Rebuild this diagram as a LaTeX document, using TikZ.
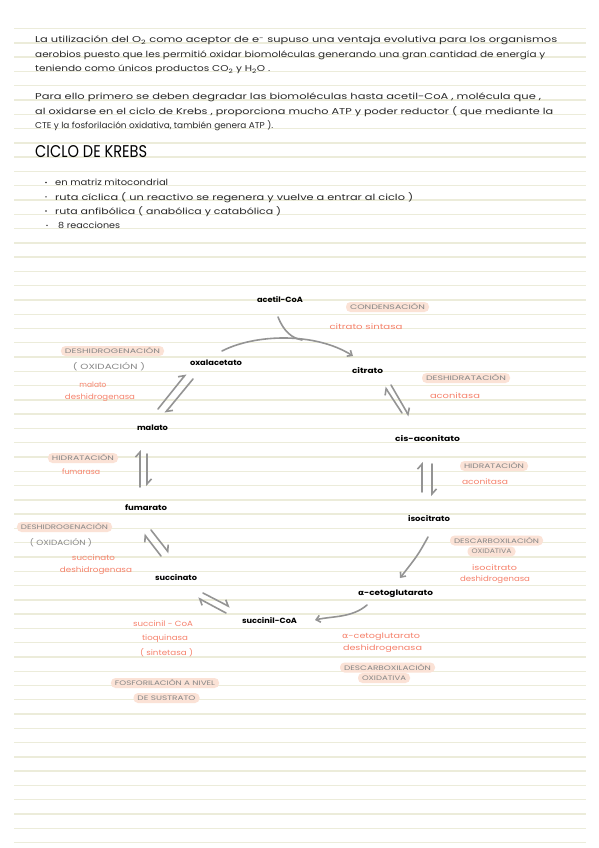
\documentclass[tikz,border=0pt]{standalone}
\usepackage{fontspec}
\usepackage{graphicx}
\setmainfont{Poppins}
\newfontfamily\greekf{DejaVu Sans}
\usetikzlibrary{arrows.meta}
\definecolor{textdark}{RGB}{40,40,40}
\definecolor{rulec}{RGB}{236,236,218}
\definecolor{peach}{RGB}{251,226,214}
\definecolor{procgray}{RGB}{135,135,135}
\definecolor{salmon}{RGB}{246,130,108}
\definecolor{arrgray}{RGB}{148,148,148}
\newcommand\fw[2]{\resizebox{#1pt}{\height}{#2}}
\begin{document}
\begin{tikzpicture}[x=1pt,y=-1pt,
  rulel/.style={draw=rulec,line width=1.4pt},
  para/.style={anchor=base west,inner sep=0pt,text=textdark,font=\fontsize{8.5}{10}\selectfont},
  titlest/.style={anchor=base west,inner sep=0pt,text=black,font=\fontsize{17}{20}\selectfont},
  bdot/.style={circle,fill=textdark,inner sep=0pt,minimum size=1.6pt},
  species/.style={inner sep=0pt,text=black,font=\fontsize{7.5}{9}\selectfont\bfseries},
  enzyme/.style={inner sep=0pt,text=salmon,font=\fontsize{7.5}{9}\selectfont},
  proc/.style={fill=peach,rounded corners=4.5pt,inner xsep=4pt,inner ysep=1.5pt,minimum height=10pt,text=procgray,font=\fontsize{6.5}{8}\selectfont},
  procplain/.style={inner sep=0pt,text=procgray,font=\fontsize{7.5}{9}\selectfont},
  arr/.style={draw=arrgray,line width=1.6pt,line cap=round,-{Straight Barb[length=4pt,width=7pt]}},
  rev/.style={draw=arrgray,line width=1.6pt,line cap=round,-{Straight Barb[harpoon,length=5pt,width=9pt]}}
]
\path[use as bounding box,fill=white] (0,0) rectangle (599,848);
\foreach \i in {0,...,57}
  \draw[rulel] (14,{28.6+14.28*\i}) -- (586,{28.6+14.28*\i});

% paragraphs
\node[para] (p1) at (35,42.9) {\fw{522}{La utilización del O\textsubscript{2} como aceptor de e\textsuperscript{−} supuso una ventaja evolutiva para los organismos}};
\node[para] (p2) at (35,57.2) {\fw{510}{aerobios puesto que les permitió oxidar biomoléculas generando una gran cantidad de energía y}};
\node[para] (p3) at (35,71.4) {\fw{235}{teniendo como únicos productos CO\textsubscript{2} y H\textsubscript{2}O .}};
\node[para] (p4) at (35,100) {\fw{506}{Para ello primero se deben degradar las biomoléculas hasta acetil-CoA , molécula que ,}};
\node[para] (p5) at (35,114.3) {\fw{518}{al oxidarse en el ciclo de Krebs , proporciona mucho ATP y poder reductor ( que mediante la}};
\node[para] (p6) at (35,128.6) {\fw{238}{CTE y la fosforilación oxidativa, también genera ATP ).}};

% title and bullets
\node[titlest] (title) at (35,157.1) {\fw{112}{CICLO DE KREBS}};
\node[bdot] (d1) at (46,182.5) {};
\node[bdot] (d2) at (46,196.8) {};
\node[bdot] (d3) at (46,211) {};
\node[bdot] (d4) at (47,225.3) {};
\node[para] (b1) at (55,185.7) {\fw{113}{en matriz mitocondrial}};
\node[para] (b2) at (55,200) {\fw{358}{ruta cíclica ( un reactivo se regenera y vuelve a entrar al ciclo )}};
\node[para] (b3) at (55,214.2) {\fw{226}{ruta anfibólica ( anabólica y catabólica )}};
\node[para] (b4) at (58,228.5) {\fw{62}{8 reacciones}};

% species
\node[species] (acetil) at (280,300) {\fw{46}{acetil-CoA}};
\node[species] (citrato) at (367.5,371) {\fw{31}{citrato}};
\node[species] (oxal) at (216,363) {\fw{52}{oxalacetato}};
\node[species] (malato) at (152.5,428) {\fw{31}{malato}};
\node[species] (cisac) at (427.5,439) {\fw{65}{cis-aconitato}};
\node[species] (fumarato) at (146,508) {\fw{42}{fumarato}};
\node[species] (isocit) at (429,519) {\fw{42}{isocitrato}};
\node[species] (succinato) at (176,578) {\fw{42}{succinato}};
\node[species] (akg) at (395.5,594) {\fw{75}{{\greekf α}-cetoglutarato}};
\node[species] (succoa) at (269.5,621) {\fw{55}{succinil-CoA}};

% process labels
\node[proc] (c1) at (387.5,307) {\fw{75}{CONDENSACIÓN}};
\node[proc] (c2) at (112.5,351) {\fw{95}{DESHIDROGENACIÓN}};
\node[procplain] (c2b) at (109,367) {\fw{72}{( OXIDACIÓN )}};
\node[proc] (c3) at (466,378) {\fw{80}{DESHIDRATACIÓN}};
\node[proc] (c4) at (83,458) {\fw{62}{HIDRATACIÓN}};
\node[proc] (c5) at (494,466) {\fw{60}{HIDRATACIÓN}};
\node[proc] (c6) at (64.5,527) {\fw{87}{DESHIDROGENACIÓN}};
\node[procplain] (c6b) at (61,543) {\fw{62}{( OXIDACIÓN )}};
\node[proc] (c7) at (496.5,540.5) {\fw{85}{DESCARBOXILACIÓN}};
\node[proc] (c7b) at (491.5,551.5) {\fw{40}{OXIDATIVA}};
\node[proc] (c8) at (165,683) {\fw{100}{FOSFORILACIÓN A NIVEL}};
\node[proc] (c8b) at (166.5,698) {\fw{58}{DE SUSTRATO}};
\node[proc] (c9) at (387.5,667.5) {\fw{87}{DESCARBOXILACIÓN}};
\node[proc] (c9b) at (384,678) {\fw{44}{OXIDATIVA}};

% enzymes
\node[enzyme] (e1) at (366,327) {\fw{73}{citrato sintasa}};
\node[enzyme] (e2) at (93,385) {\fw{27}{malato}};
\node[enzyme] (e2b) at (100,398) {\fw{70}{deshidrogenasa}};
\node[enzyme] (e3) at (455,396) {\fw{50}{aconitasa}};
\node[enzyme] (e4) at (81,472) {\fw{38}{fumarasa}};
\node[enzyme] (e5) at (485,482) {\fw{46}{aconitasa}};
\node[enzyme] (e6) at (93.5,558) {\fw{43}{succinato}};
\node[enzyme] (e6b) at (96,571) {\fw{72}{deshidrogenasa}};
\node[enzyme] (e7) at (494.5,568) {\fw{45}{isocitrato}};
\node[enzyme] (e7b) at (495,580) {\fw{70}{deshidrogenasa}};
\node[enzyme] (e8) at (163,624) {\fw{60}{succinil - CoA}};
\node[enzyme] (e8b) at (165,639) {\fw{46}{tioquinasa}};
\node[enzyme] (e8c) at (166.5,653) {\fw{53}{( sintetasa )}};
\node[enzyme] (e9) at (381,637) {\fw{78}{{\greekf α}-cetoglutarato}};
\node[enzyme] (e9b) at (382.5,649) {\fw{79}{deshidrogenasa}};

% arrow coordinates
\coordinate (arcS) at (222,351);
\coordinate (arcE) at (353,356);
\coordinate (acS) at (278,317);
\coordinate (acM) at (302,340);
\coordinate (om1) at (158,409); \coordinate (om2) at (186,374);
\coordinate (mo1) at (193,379); \coordinate (mo2) at (165,413);
\coordinate (cc1) at (402,413); \coordinate (cc2) at (385,387);
\coordinate (cc3) at (391,385); \coordinate (cc4) at (409,416);
\coordinate (ci1) at (422,492); \coordinate (ci2) at (422,462);
\coordinate (ci3) at (432,464); \coordinate (ci4) at (432,496);
\coordinate (ia1) at (428,537); \coordinate (ia2) at (400,578);
\coordinate (as1) at (367,605); \coordinate (as2) at (315,620);
\coordinate (ss1) at (203,593); \coordinate (ss2) at (230,607);
\coordinate (ss3) at (226,613); \coordinate (ss4) at (198,598);
\coordinate (sf1) at (161,556); \coordinate (sf2) at (144,534);
\coordinate (sf3) at (151,530); \coordinate (sf4) at (169,553);
\coordinate (fm1) at (140,487); \coordinate (fm2) at (140,450);
\coordinate (fm3) at (147,454); \coordinate (fm4) at (147,486);

% arrows
\draw[arr] (arcS) .. controls (255,334) and (315,332) .. (arcE);
\draw[draw=arrgray,line width=1.6pt,line cap=round] (acS) .. controls (284,332) and (292,338) .. (acM);
\draw[rev] (om1) -- (om2);
\draw[rev] (mo1) -- (mo2);
\draw[rev] (cc1) -- (cc2);
\draw[rev] (cc3) -- (cc4);
\draw[rev] (ci1) -- (ci2);
\draw[rev] (ci3) -- (ci4);
\draw[arr] (ia1) .. controls (418,555) .. (ia2);
\draw[arr] (as1) .. controls (352,618) and (332,616) .. (as2);
\draw[rev] (ss1) -- (ss2);
\draw[rev] (ss3) -- (ss4);
\draw[rev] (sf1) -- (sf2);
\draw[rev] (sf3) -- (sf4);
\draw[rev] (fm1) -- (fm2);
\draw[rev] (fm3) -- (fm4);
\end{tikzpicture}
\end{document}
